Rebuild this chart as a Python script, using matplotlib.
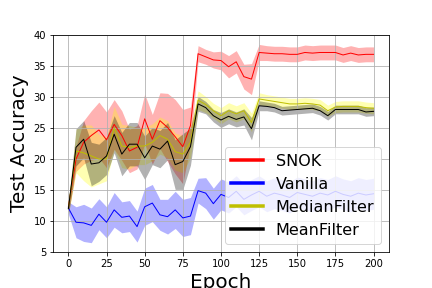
import matplotlib
matplotlib.use("Agg")
import matplotlib.pyplot as plt
import numpy as np

epochs = np.arange(0, 201, 5)

snok_mean = [12.3, 20.0, 22.7, 23.8, 24.7, 23.1, 25.6, 23.8, 21.3, 21.9, 26.5,
             23.2, 26.2, 25.1, 23.6, 22.0, 25.4, 37.0, 36.5, 36.0, 35.9, 34.9,
             35.7, 33.3, 32.9, 37.2, 37.1, 37.0, 37.0, 36.9, 36.9, 37.2, 37.1,
             37.2, 37.2, 37.2, 36.8, 37.1, 36.8, 36.9, 36.9]
snok_std = [1.0, 2.0, 3.5, 4.0, 4.5, 4.5, 4.0, 4.0, 3.5, 3.5, 4.0,
            4.0, 4.5, 5.5, 6.0, 6.0, 3.0, 1.3, 1.2, 1.3, 1.5, 1.8,
            1.8, 2.0, 2.5, 1.3, 1.2, 1.2, 1.2, 1.2, 1.2, 1.2, 1.2,
            1.2, 1.2, 1.2, 1.2, 1.2, 1.2, 1.2, 1.2]

vanilla_mean = [12.1, 9.8, 9.7, 9.3, 11.1, 9.8, 11.8, 10.6, 10.8, 9.1, 12.3,
                12.9, 11.0, 10.7, 11.8, 10.5, 10.8, 14.9, 14.5, 12.8, 14.3, 13.8,
                14.8, 13.5, 14.2, 14.8, 14.0, 14.5, 14.2, 13.8, 14.6, 14.3, 14.0,
                14.5, 14.2, 14.8, 14.3, 14.0, 14.5, 14.2, 14.4]
vanilla_std = [1.0, 2.5, 3.0, 2.8, 2.5, 2.5, 2.8, 2.5, 2.5, 2.5, 3.0,
               3.0, 2.5, 2.8, 3.0, 3.0, 3.0, 2.0, 2.5, 2.5, 2.5, 2.5,
               2.5, 2.5, 2.5, 2.5, 2.5, 2.5, 2.5, 2.5, 2.5, 2.5, 2.5,
               2.5, 2.5, 2.5, 2.5, 2.5, 2.5, 2.5, 2.5]

median_mean = [12.0, 21.3, 21.0, 20.5, 20.0, 20.0, 25.0, 22.1, 21.9, 22.1, 22.1,
               22.7, 23.8, 23.2, 21.2, 20.8, 22.7, 29.5, 28.8, 27.8, 27.0, 27.8,
               27.3, 27.8, 25.9, 29.7, 29.5, 29.3, 29.1, 28.9, 28.9, 29.0, 28.9,
               28.7, 27.8, 28.4, 28.5, 28.5, 28.5, 28.3, 28.2]
median_std = [1.0, 3.5, 4.5, 5.0, 4.0, 3.5, 3.5, 3.5, 3.5, 3.0, 3.0,
              3.0, 3.0, 3.0, 3.0, 3.0, 2.5, 1.5, 1.3, 1.2, 1.3, 1.3,
              1.3, 1.3, 1.5, 1.0, 0.9, 0.9, 0.9, 0.9, 0.9, 0.9, 0.9,
              0.9, 0.9, 0.9, 0.9, 0.9, 0.9, 0.9, 0.9]

mean_mean = [12.0, 21.9, 23.2, 19.2, 19.4, 20.5, 24.0, 20.8, 22.4, 22.4, 20.2,
             22.1, 21.6, 22.9, 19.1, 19.6, 22.0, 28.9, 28.3, 27.0, 26.3, 26.9,
             26.4, 26.8, 24.9, 28.6, 28.5, 28.3, 27.8, 27.9, 28.0, 28.1, 28.2,
             27.8, 27.0, 28.0, 28.0, 28.0, 28.0, 27.6, 27.7]
mean_std = [1.0, 3.0, 3.0, 3.5, 3.0, 3.0, 3.0, 3.5, 3.5, 3.5, 3.5,
            3.0, 3.0, 3.0, 4.0, 4.5, 3.0, 1.2, 1.0, 1.0, 1.2, 1.2,
            1.2, 1.3, 1.8, 0.8, 0.7, 0.7, 0.7, 0.7, 0.7, 0.7, 0.7,
            0.7, 0.7, 0.7, 0.7, 0.7, 0.7, 0.7, 0.7]

series = [
    ("SNOK", snok_mean, snok_std, "r", "r"),
    ("Vanilla", vanilla_mean, vanilla_std, "b", "b"),
    ("MedianFilter", median_mean, median_std, "y", "yellow"),
    ("MeanFilter", mean_mean, mean_std, "k", "k"),
]

fig = plt.figure(figsize=(6, 4), dpi=72)
ax = fig.add_axes([0.123, 0.125, 0.777, 0.753])

for label, mu, sd, line_color, fill_color in series:
    mu = np.asarray(mu)
    sd = np.asarray(sd)
    ax.fill_between(epochs, mu - sd, mu + sd, color=fill_color, alpha=0.3, linewidth=0)
    ax.plot(epochs, mu, color=line_color, linewidth=1.0, label=label)

ax.set_ylim(5, 40)
ax.set_xticks(np.arange(0, 201, 25))
ax.set_yticks(np.arange(5, 41, 5))
ax.grid(True, color="#b0b0b0")
ax.set_xlabel("Epoch", fontsize=20)
ax.set_ylabel("Test Accuracy", fontsize=20)

leg = ax.legend(loc="lower right", fontsize=16)
for line in leg.get_lines():
    line.set_linewidth(3.5)

fig.savefig("out.png", dpi=72)
